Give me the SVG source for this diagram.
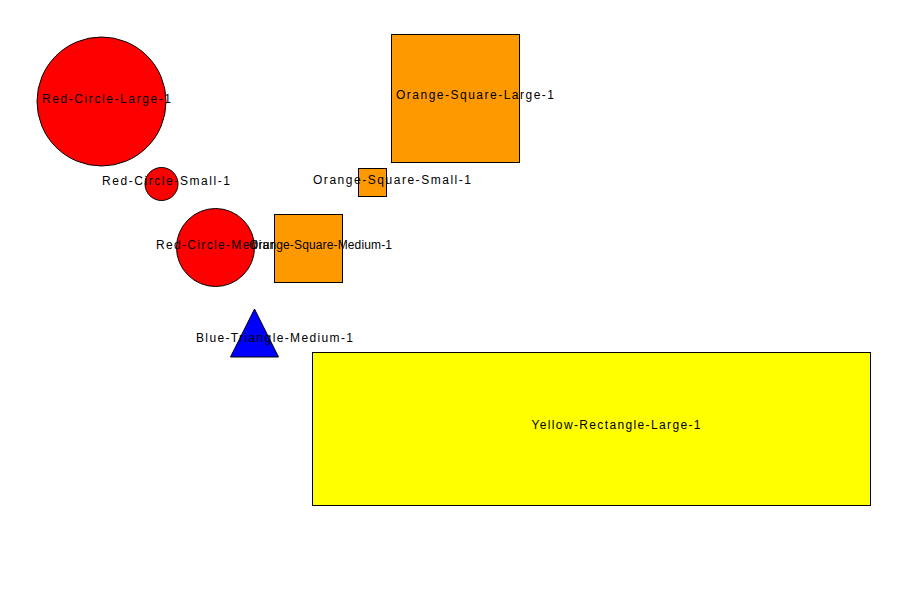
<svg xmlns="http://www.w3.org/2000/svg" width="898" height="598" viewBox="0 0 898 598">
<style>
.s{stroke:#000;stroke-width:1}
.red{fill:#ff0000}
.org{fill:#ff9900}
.blu{fill:#0000ff}
.yel{fill:#ffff00}
text{font-family:"Liberation Sans",Arial,sans-serif;font-size:12px;fill:#000;text-anchor:middle}
</style>
<rect width="898" height="598" fill="#fff"/>
<g id="connectors"></g>
<g id="yellow-rectangle-large-1">
<rect class="s yel" x="312.5" y="352.5" width="558" height="153"/>
<text x="616" y="429" textLength="169" lengthAdjust="spacing">Yellow-Rectangle-Large-1</text>
</g>
<g id="red-circle-large-1">
<circle class="s red" cx="101.5" cy="101.5" r="64.5"/>
<text x="106.5" y="103" textLength="129" lengthAdjust="spacing">Red-Circle-Large-1</text>
</g>
<g id="orange-square-large-1">
<rect class="s org" x="391.5" y="34.5" width="128" height="128"/>
<text x="475" y="99" textLength="158" lengthAdjust="spacing">Orange-Square-Large-1</text>
</g>
<g id="red-circle-small-1">
<circle class="s red" cx="161.5" cy="184" r="16.5"/>
<text x="166" y="184.5" textLength="128" lengthAdjust="spacing">Red-Circle-Small-1</text>
</g>
<g id="orange-square-small-1">
<rect class="s org" x="358.5" y="168.5" width="28" height="28"/>
<text x="392" y="183.5" textLength="158" lengthAdjust="spacing">Orange-Square-Small-1</text>
</g>
<g id="red-circle-medium-1">
<circle class="s red" cx="215.5" cy="247.5" r="39"/>
<text x="225" y="248.5" textLength="138" lengthAdjust="spacing">Red-Circle-Medium-1</text>
</g>
<g id="orange-square-medium-1">
<rect class="s org" x="274.5" y="214.5" width="68" height="68"/>
<text x="320.5" y="248.5" textLength="143" lengthAdjust="spacing">Orange-Square-Medium-1</text>
</g>
<g id="blue-triangle-medium-1">
<polygon class="s blu" points="254.5,309 230.5,357 278.5,357"/>
<text x="274.5" y="341.5" textLength="157" lengthAdjust="spacing">Blue-Triangle-Medium-1</text>
</g>
</svg>
